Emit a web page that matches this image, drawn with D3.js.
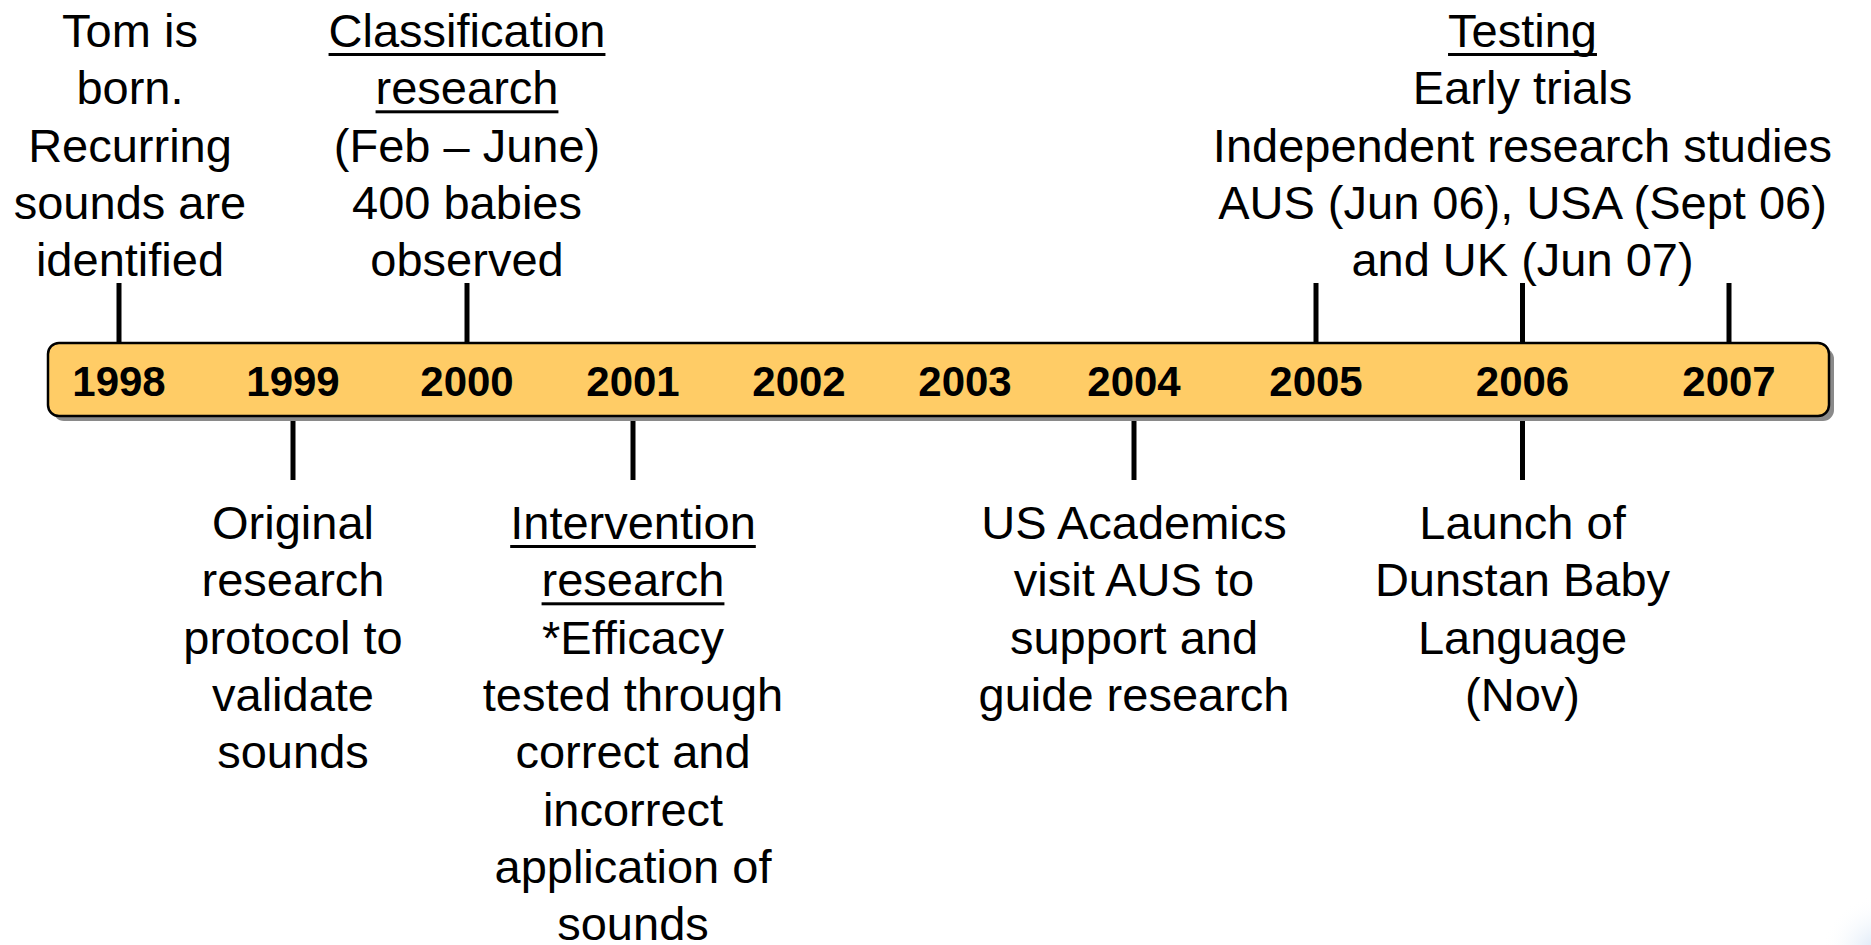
<!DOCTYPE html>
<html>
<head>
<meta charset="utf-8">
<script src="https://cdn.jsdelivr.net/npm/d3@7"></script>
<style>
  html, body { margin: 0; padding: 0; background: #fff; overflow: hidden; }
  svg { display: block; }
</style>
</head>
<body>
<div id="chart"></div>
<script>
const years = [1998, 1999, 2000, 2001, 2002, 2003, 2004, 2005, 2006, 2007];
// each event: the years it points at, which side of the bar, underlined heading lines, body lines
const eventYears = [[1998], [2000], [2005, 2006, 2007], [1999], [2001], [2004], [2006]];
const eventSide = ["above", "above", "above", "below", "below", "below", "below"];
const eventHeadings = [
  [],
  ["Classification", "research"],
  ["Testing"],
  [],
  ["Intervention", "research"],
  [],
  []
];
const eventLines = [
  ["Tom is", "born.", "Recurring", "sounds are", "identified"],
  ["(Feb \u2013 June)", "400 babies", "observed"],
  ["Early trials", "Independent research studies", "AUS (Jun 06), USA (Sept 06)", "and UK (Jun 07)"],
  ["Original", "research", "protocol to", "validate", "sounds"],
  ["*Efficacy", "tested through", "correct and", "incorrect", "application of", "sounds"],
  ["US Academics", "visit AUS to", "support and", "guide research"],
  ["Launch of", "Dunstan Baby", "Language", "(Nov)"]
];

const width = 1871, height = 945;
const barTop = 343, barBottom = 416, barLeft = 48, barRight = 1829;
const lineH = 57.3;
const font = "'Liberation Sans', Arial, sans-serif";

// hand-drawn timeline: years are not evenly spaced
const x = d3.scaleLinear()
  .domain([1998, 2000, 2003, 2004, 2005, 2007])
  .range([119, 467, 965, 1134, 1316, 1729]);

const svg = d3.select("#chart").append("svg").attr("width", width).attr("height", height);

// faint slide decoration in the bottom-right corner
const defs = svg.append("defs");
const grad = defs.append("radialGradient").attr("id", "corner");
grad.append("stop").attr("offset", "0%").attr("stop-color", "#c9dcf2").attr("stop-opacity", 0.9);
grad.append("stop").attr("offset", "100%").attr("stop-color", "#ffffff").attr("stop-opacity", 0);
svg.append("circle").attr("cx", width + 10).attr("cy", height + 10).attr("r", 60).attr("fill", "url(#corner)");

// connector ticks
const ticks = [];
eventYears.forEach((ys, i) => ys.forEach(y => ticks.push({ year: y, side: eventSide[i] })));
svg.selectAll("line.tick").data(ticks).join("line")
  .attr("class", "tick")
  .attr("x1", d => x(d.year)).attr("x2", d => x(d.year))
  .attr("y1", d => d.side === "above" ? 283 : barBottom)
  .attr("y2", d => d.side === "above" ? barTop : 480)
  .attr("stroke", "#000").attr("stroke-width", 5);

// bar with shadow
svg.append("rect")
  .attr("x", barLeft + 5).attr("y", barTop + 5)
  .attr("width", barRight - barLeft).attr("height", barBottom - barTop)
  .attr("rx", 11).attr("fill", "#8a8a8a");
svg.append("rect")
  .attr("x", barLeft).attr("y", barTop)
  .attr("width", barRight - barLeft).attr("height", barBottom - barTop)
  .attr("rx", 11).attr("fill", "#ffcc66").attr("stroke", "#000").attr("stroke-width", 2.5);

svg.selectAll("text.year").data(years).join("text")
  .attr("class", "year")
  .attr("x", d => x(d)).attr("y", 396)
  .attr("text-anchor", "middle")
  .attr("font-family", font).attr("font-weight", "bold").attr("font-size", 42)
  .text(d => d);

// event text blocks
eventLines.forEach((lines, i) => {
  const ys = eventYears[i];
  const cx = (x(d3.min(ys)) + x(d3.max(ys))) / 2 + (i === 0 ? 11 : 0);
  const all = eventHeadings[i].map(t => ({ t, u: true })).concat(lines.map(t => ({ t, u: false })));
  const y0 = eventSide[i] === "above" ? 47 : 539;
  const g = svg.append("g");
  all.forEach((d, j) => {
    const by = y0 + j * lineH;
    const txt = g.append("text")
      .attr("x", cx).attr("y", by)
      .attr("text-anchor", "middle")
      .attr("font-family", font).attr("font-size", 47)
      .text(d.t);
    if (d.u) {
      const w = txt.node().getComputedTextLength();
      g.append("rect").attr("x", cx - w / 2).attr("y", by + 6)
        .attr("width", w).attr("height", 3).attr("fill", "#000");
    }
  });
});
</script>
</body>
</html>
